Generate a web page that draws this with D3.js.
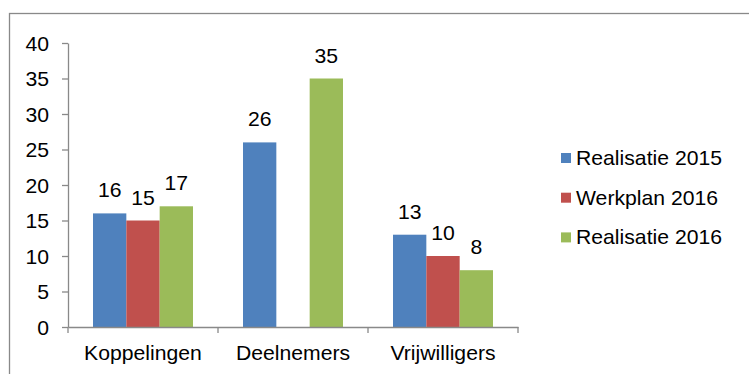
<!DOCTYPE html>
<html>
<head>
<meta charset="utf-8">
<script src="https://cdn.jsdelivr.net/npm/d3@7/dist/d3.min.js"></script>
<style>
  html, body { margin: 0; padding: 0; background: #ffffff; }
  svg { display: block; }
  text { font-family: "Liberation Sans", Arial, sans-serif; fill: #000; }
</style>
</head>
<body>
<script>
// Categories, series and values
const categories = ["Koppelingen", "Deelnemers", "Vrijwilligers"];
const seriesNames = ["Realisatie 2015", "Werkplan 2016", "Realisatie 2016"];
const realisatie2015 = [16, 26, 13];
const werkplan2016 = [15, null, 10];
const realisatie2016 = [17, 35, 8];
const seriesColors = ["#4F81BD", "#C0504D", "#9BBB59"];
const yTicks = [0, 5, 10, 15, 20, 25, 30, 35, 40];

const seriesValues = [realisatie2015, werkplan2016, realisatie2016];

const W = 749, H = 374;
const FONT = 20;          // label size
const STRETCH = 1.06;     // horizontal widening of the label glyphs
const axisColor = "#898989";

const svg = d3.select("body").append("svg")
  .attr("width", W).attr("height", H);

// outer chart frame
svg.append("rect")
  .attr("x", 9.5).attr("y", 13.5)
  .attr("width", 800).attr("height", 400)
  .attr("fill", "none")
  .attr("stroke", axisColor)
  .attr("stroke-width", 1.3);

// scales
const x = d3.scaleBand().domain(categories).range([68, 518]);
const x1 = d3.scaleBand().domain(seriesNames)
  .range([x.bandwidth() / 6, x.bandwidth() * 5 / 6]);
const y = d3.scaleLinear().domain([0, 40]).range([327, 43]);

// bars
const rows = [];
categories.forEach((c, ci) => {
  seriesNames.forEach((s, si) => {
    const v = seriesValues[si][ci];
    if (v != null) rows.push({ c, s, v, color: seriesColors[si] });
  });
});

svg.append("g").selectAll("rect")
  .data(rows).join("rect")
  .attr("x", d => x(d.c) + x1(d.s))
  .attr("y", d => y(d.v))
  .attr("width", x1.bandwidth())
  .attr("height", d => y(0) - y(d.v))
  .attr("fill", d => d.color);

// value labels above the bars
svg.append("g").selectAll("text")
  .data(rows).join("text")
  .attr("transform", d =>
    `translate(${x(d.c) + x1(d.s) + x1.bandwidth() / 2},${y(d.v) - 16}) scale(${STRETCH},1)`)
  .attr("text-anchor", "middle")
  .attr("font-size", FONT)
  .text(d => d.v);

// y axis
const yAxis = svg.append("g")
  .attr("transform", "translate(68,0)")
  .call(d3.axisLeft(y).tickValues(yTicks).tickSize(6).tickSizeOuter(0));
yAxis.select(".domain").attr("stroke", axisColor).attr("stroke-width", 1.3);
yAxis.selectAll(".tick line").attr("stroke", axisColor).attr("stroke-width", 1.3);
yAxis.selectAll(".tick text")
  .attr("x", 0).attr("dy", "0.36em")
  .attr("transform", `translate(-19,0) scale(${STRETCH},1)`)
  .attr("font-size", FONT)
  .attr("font-family", null)
  .attr("fill", "#000");

// x axis: labels centred in each band, ticks on the band edges
const xAxis = svg.append("g")
  .attr("transform", `translate(0,${y(0)})`)
  .call(d3.axisBottom(x).tickSize(0).tickSizeOuter(0));
xAxis.select(".domain").attr("stroke", axisColor).attr("stroke-width", 1.3);
xAxis.selectAll(".tick text")
  .attr("y", 33).attr("dy", 0)
  .attr("transform", `scale(${STRETCH},1)`)
  .attr("x", 0)
  .attr("font-size", FONT)
  .attr("font-family", null)
  .attr("fill", "#000");

const edges = categories.map(c => x(c)).concat([x(categories[categories.length - 1]) + x.bandwidth()]);
svg.append("g").selectAll("line")
  .data(edges).join("line")
  .attr("x1", d => d).attr("x2", d => d)
  .attr("y1", y(0)).attr("y2", y(0) + 6)
  .attr("stroke", axisColor)
  .attr("stroke-width", 1.3);

// legend
const legend = svg.append("g").selectAll("g")
  .data(seriesNames).join("g")
  .attr("transform", (d, i) => `translate(561,${153 + i * 39.7})`);
legend.append("rect")
  .attr("width", 10).attr("height", 10)
  .attr("fill", (d, i) => seriesColors[i]);
legend.append("text")
  .attr("transform", `translate(15,12) scale(${STRETCH},1)`)
  .attr("font-size", FONT)
  .text(d => d);
</script>
</body>
</html>
